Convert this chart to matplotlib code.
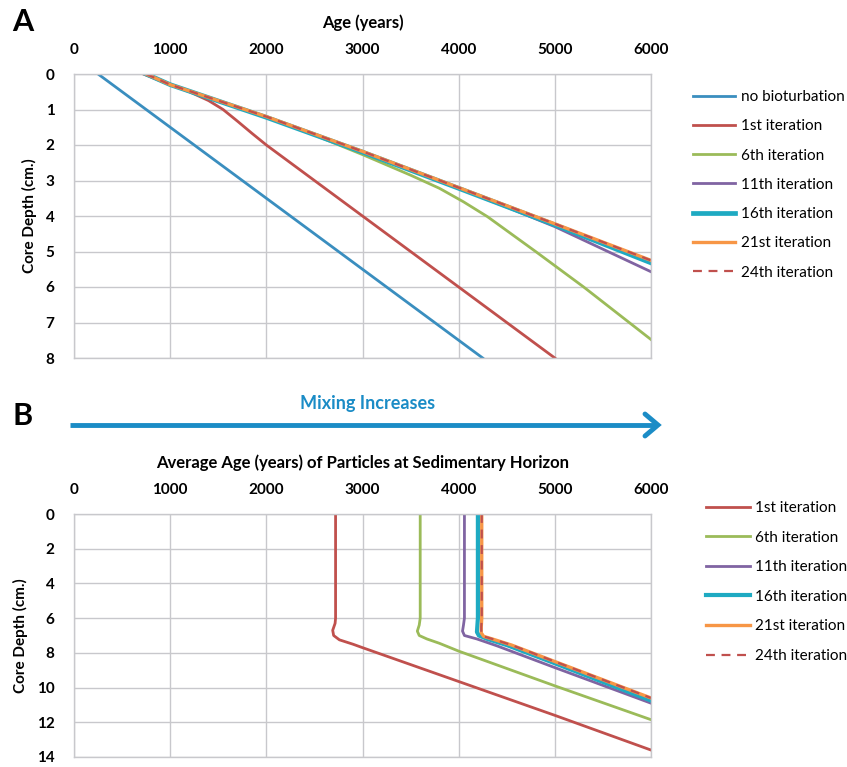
import numpy as np
import matplotlib.pyplot as plt

plt.rcParams['font.family'] = ['Lato', 'DejaVu Sans']

# ---- panel A: age vs depth ----
nobio_age = [250, 1000, 2000, 3000, 4250]
nobio_depth = [0, 1.5, 3.5, 5.5, 8.0]

a1_age = [720, 1000, 1200, 1400, 1550, 1700, 1850, 2000, 3000, 4000, 5000]
a1_depth = [0, 0.3, 0.5, 0.75, 1.0, 1.33, 1.67, 2.0, 4.0, 6.0, 8.0]

a6_age = [750, 1000, 2000, 2500, 3000, 3500, 3800, 4050, 4300, 4800, 5300, 6000]
a6_depth = [0, 0.3, 1.22, 1.72, 2.27, 2.85, 3.22, 3.6, 4.02, 5.0, 6.0, 7.48]

a11_age = [750, 1000, 2000, 3000, 4000, 4500, 5000, 6000]
a11_depth = [0, 0.3, 1.22, 2.2, 3.22, 3.75, 4.3, 5.57]

a16_age = [750, 1000, 2000, 3000, 4000, 5000, 6000]
a16_depth = [0, 0.3, 1.22, 2.2, 3.22, 4.25, 5.32]

a21_age = [750, 1000, 2000, 3000, 4000, 5000, 6000]
a21_depth = [0, 0.3, 1.2, 2.18, 3.2, 4.22, 5.25]

a24_age = [750, 1000, 2000, 3000, 4000, 5000, 6000]
a24_depth = [0, 0.3, 1.2, 2.18, 3.2, 4.22, 5.25]

# ---- panel B: average age vs depth ----
b1_age = [2720, 2720, 2715, 2690, 2700, 2760, 2900, 3000, 4000, 5000, 6000]
b1_depth = [0, 6.0, 6.3, 6.7, 7.0, 7.25, 7.5, 7.7, 9.65, 11.6, 13.6]

b6_age = [3600, 3600, 3590, 3570, 3590, 3670, 3800, 4000, 5000, 6000]
b6_depth = [0, 6.0, 6.4, 6.75, 7.0, 7.2, 7.45, 7.9, 9.9, 11.85]

b11_age = [4060, 4060, 4050, 4040, 4060, 4190, 4400, 5000, 6000]
b11_depth = [0, 6.0, 6.4, 6.75, 7.0, 7.2, 7.6, 8.85, 10.9]

b16_age = [4200, 4200, 4195, 4190, 4210, 4300, 4500, 5000, 6000]
b16_depth = [0, 6.0, 6.4, 6.8, 7.0, 7.2, 7.55, 8.6, 10.75]

b21_age = [4240, 4240, 4235, 4235, 4260, 4350, 4550, 5000, 6000]
b21_depth = [0, 6.0, 6.5, 6.85, 7.05, 7.2, 7.55, 8.5, 10.6]

b24_age = [4240, 4240, 4235, 4235, 4260, 4350, 4550, 5000, 6000]
b24_depth = [0, 6.0, 6.5, 6.85, 7.05, 7.2, 7.55, 8.5, 10.6]

labels = ["no bioturbation", "1st iteration", "6th iteration", "11th iteration",
          "16th iteration", "21st iteration", "24th iteration"]

c_blue = '#3A8EBF'
c_red = '#C0504D'
c_green = '#9BBB59'
c_purple = '#8064A2'
c_cyan = '#1EAAC2'
c_orange = '#F79646'

grid_c = '#C8C8CC'

fig = plt.figure(figsize=(8.47, 7.67), dpi=100)
axA = fig.add_axes([74/847, 1-358/767, (651-74)/847, (358-74)/767])
axB = fig.add_axes([74/847, 1-757/767, (651-74)/847, (757-514)/767])


def style(ax, ymax, ystep, xlabel):
    ax.set_xlim(0, 6000)
    ax.set_ylim(ymax, 0)
    ax.set_xticks(np.arange(0, 6001, 1000))
    ax.set_yticks(np.arange(0, ymax + 0.1, ystep))
    ax.xaxis.tick_top()
    ax.xaxis.set_label_position('top')
    ax.tick_params(length=0, labelsize=11)
    ax.tick_params(axis='x', pad=12)
    ax.tick_params(axis='y', pad=14)
    for lab in ax.get_xticklabels() + ax.get_yticklabels():
        lab.set_fontweight('bold')
    ax.grid(True, color=grid_c, lw=1.0)
    for s in ax.spines.values():
        s.set_color(grid_c)
        s.set_linewidth(1.0)
    ax.set_xlabel(xlabel, fontsize=12, fontweight='bold', labelpad=11)
    ax.set_ylabel("Core Depth (cm.)", fontsize=11, fontweight='bold', labelpad=6)


style(axA, 8, 1, "Age (years)")
style(axB, 14, 2, "Average Age (years) of Particles at Sedimentary Horizon")

lw = 2.0
axA.plot(nobio_age, nobio_depth, color=c_blue, lw=lw, label=labels[0])
axA.plot(a1_age, a1_depth, color=c_red, lw=lw, label=labels[1])
axA.plot(a6_age, a6_depth, color=c_green, lw=lw, label=labels[2])
axA.plot(a11_age, a11_depth, color=c_purple, lw=lw, label=labels[3])
axA.plot(a16_age, a16_depth, color=c_cyan, lw=3.4, label=labels[4])
axA.plot(a21_age, a21_depth, color=c_orange, lw=2.4, label=labels[5])
axA.plot(a24_age, a24_depth, color=c_red, lw=1.6, ls=(0, (4, 3)), label=labels[6])

axB.plot(b1_age, b1_depth, color=c_red, lw=lw, label=labels[1])
axB.plot(b6_age, b6_depth, color=c_green, lw=lw, label=labels[2])
axB.plot(b11_age, b11_depth, color=c_purple, lw=lw, label=labels[3])
axB.plot(b16_age, b16_depth, color=c_cyan, lw=3.0, label=labels[4])
axB.plot(b21_age, b21_depth, color=c_orange, lw=2.4, label=labels[5])
axB.plot(b24_age, b24_depth, color=c_red, lw=1.6, ls=(0, (4, 3)), label=labels[6])

axA.legend(loc='upper left', bbox_to_anchor=(693/847, 1-90/767), bbox_transform=fig.transFigure,
           frameon=False, fontsize=11, handlelength=2.75, handletextpad=0.4, labelspacing=1.0,
           borderaxespad=0, borderpad=0)
axB.legend(loc='upper left', bbox_to_anchor=(706/847, 1-501/767), bbox_transform=fig.transFigure,
           frameon=False, fontsize=11, handlelength=2.9, handletextpad=0.3, labelspacing=1.02,
           borderaxespad=0, borderpad=0)

fig.text(12/847, 1-22/767, "A", fontsize=22, fontweight='bold', va='center', ha='left')
fig.text(12/847, 1-416/767, "B", fontsize=22, fontweight='bold', va='center', ha='left')

arrow_c = '#1B8CC6'
fig.text(368/847, 1-404/767, "Mixing Increases", fontsize=13, fontweight='bold',
         color=arrow_c, ha='center', va='center')
fig.add_artist(plt.Line2D([70/847, 655/847], [1-425/767, 1-425/767], color=arrow_c, lw=3.5,
                          transform=fig.transFigure, solid_capstyle='butt'))
fig.add_artist(plt.Line2D([645/847, 658/847, 645/847], [1-414/767, 1-425/767, 1-436/767],
                          color=arrow_c, lw=3.5, transform=fig.transFigure,
                          solid_capstyle='round', solid_joinstyle='miter'))

fig.savefig("out.png", dpi=100)
